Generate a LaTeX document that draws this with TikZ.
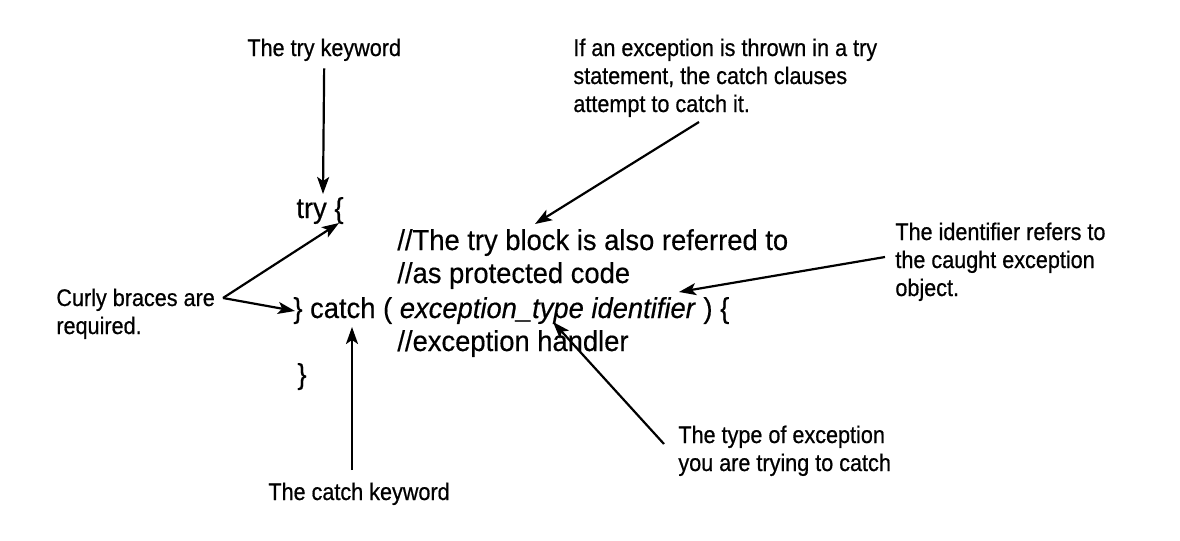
\documentclass[tikz,border=0pt]{standalone}
\usepackage{fontspec}
\setmainfont{Liberation Sans}[FakeStretch=0.9,FakeBold=0.6]
\newfontfamily\codefont{Liberation Sans}[FakeStretch=0.95,FakeBold=0.4]
\usetikzlibrary{arrows.meta}

\begin{document}
\begin{tikzpicture}[x=0.5pt,y=-0.5pt,
    >={Stealth[length=8.5pt,width=6pt,inset=2pt]}]
\useasboundingbox (0,0) rectangle (1180,541);

            % annotations (base = last line)
            \begin{scope}[every node/.style={anchor=base west,inner sep=0pt,align=left,
                font=\fontsize{12}{14}\selectfont}]
                \node (trykw) at (247,56) {The try keyword};
                \node (curly) at (56,334) {Curly braces are\\required.};
                \node (catchkw) at (268,500) {The catch keyword};
                \node (thrown) at (573,112) {If an exception is thrown in a try\\statement, the catch clauses\\attempt to catch it.};
                \node (ident) at (895,296) {The identifier refers to\\the caught exception\\object.};
                \node (extype) at (678,471) {The type of exception\\you are trying to catch};
            \end{scope}

            % code
            \begin{scope}[every node/.style={anchor=base west,inner sep=0pt,
                font=\codefont\fontsize{14.4}{16.5}\selectfont}]
                \node (tryline) at (296,218) {try \{};
                \node (comment1) at (397,250) {//The try block is also referred to};
                \node (comment2) at (397,283) {//as protected code};
                \node (catchline) at (293,318) {\} catch ( \textit{exception\_type identifier} ) \{};
                \node (comment3) at (397,351) {//exception handler};
                \node (closeline) at (297,384) {\}};
            \end{scope}

            % arrow ends
            \coordinate (trytip) at (323,194);
            \coordinate (curlyout) at (223,298);
            \coordinate (bracetop) at (339,223);
            \coordinate (bracebot) at (295,311);
            \coordinate (catchout) at (352,470);
            \coordinate (catchtip) at (352,327);
            \coordinate (thrownout) at (699,122);
            \coordinate (blocktip) at (535,224);
            \coordinate (identout) at (885,257);
            \coordinate (identtip) at (679,292);
            \coordinate (typeout) at (664,444);
            \coordinate (typetip) at (553,322);

            \begin{scope}[line width=1.1pt]
                \path [->,shorten <=3.5pt] (trykw.south) edge (trytip);
                \path [->] (curlyout) edge (bracetop);
                \path [->] (curlyout) edge (bracebot);
                \path [->] (catchout) edge (catchtip);
                \path [->] (thrownout) edge (blocktip);
                \path [->] (identout) edge (identtip);
                \path [->] (typeout) edge (typetip);
            \end{scope}
\end{tikzpicture}
\end{document}
